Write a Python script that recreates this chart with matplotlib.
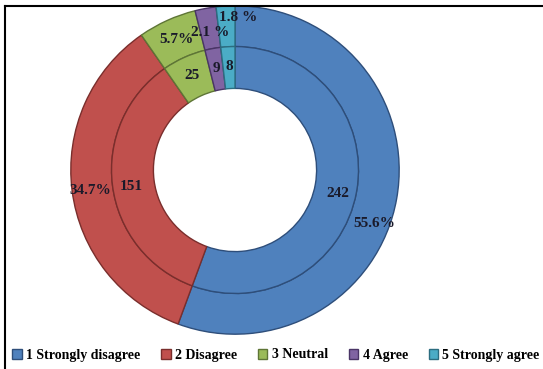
import matplotlib
matplotlib.use("Agg")
import matplotlib.pyplot as plt
from matplotlib.lines import Line2D
from matplotlib.patches import Patch
import numpy as np

categories = ["1 Strongly disagree", "2 Disagree", "3 Neutral", "4 Agree", "5 Strongly agree"]
counts = [242, 151, 25, 9, 8]
percent_labels = ["55.6%", "34.7%", "5.7%", "2.1 %", "1.8 %"]

fills = ["#4F81BD", "#C0504D", "#9BBB59", "#8064A2", "#4BACC6"]
edges = ["#2E4E7A", "#7A2E2C", "#5E7536", "#4A3566", "#2C6D80"]

plt.rcParams["font.family"] = ["Liberation Serif", "DejaVu Serif"]
plt.rcParams["font.weight"] = "bold"

W, H, DPI = 543, 369, 100
fig = plt.figure(figsize=(W / DPI, H / DPI), dpi=DPI)
fig.patch.set_facecolor("white")

# donut centre and outer radius in pixels
cx, cy, R = 235, 170, 165
ax = fig.add_axes([(cx - R) / W, (H - cy - R) / H, 2 * R / W, 2 * R / H])

r_mid, r_in = 0.752, 0.497

outer, _ = ax.pie(counts, radius=1.0, startangle=90, counterclock=False,
                  colors=fills, wedgeprops=dict(width=1.0 - r_mid, linewidth=1.0))
inner, _ = ax.pie(counts, radius=r_mid, startangle=90, counterclock=False,
                  colors=fills, wedgeprops=dict(width=r_mid - r_in, linewidth=1.0))
for w, e in zip(outer, edges):
    w.set_edgecolor(e)
for w, e in zip(inner, edges):
    w.set_edgecolor(e)

ax.set_xlim(-1.005, 1.005)
ax.set_ylim(-1.005, 1.005)
ax.set_aspect("equal")
ax.axis("off")

# small angular nudges (degrees) and radius tweaks for label placement
outer_nudge = [-11, 1, 0, 0, -4.5]
outer_r = [0.91, 0.89, 0.87, 0.85, 0.93]
inner_nudge = [-3, 2, 0, 0, 0]
inner_r = [0.64, 0.64, 0.63, 0.63, 0.63]

total = sum(counts)
start = 90.0
txt_kw = dict(ha="center", va="center", fontsize=11, fontweight="bold", color="#1a1a2a")
for i, c in enumerate(counts):
    span = 360.0 * c / total
    mid = start - span / 2
    start -= span
    a = np.deg2rad(mid + outer_nudge[i])
    ax.text(outer_r[i] * np.cos(a), outer_r[i] * np.sin(a), percent_labels[i], **txt_kw)
    a = np.deg2rad(mid + inner_nudge[i])
    ax.text(inner_r[i] * np.cos(a), inner_r[i] * np.sin(a), str(c), **txt_kw)

handles = [Patch(facecolor=f, edgecolor=e, linewidth=1.0) for f, e in zip(fills, edges)]
fig.legend(handles, categories, loc="center", bbox_to_anchor=(0.508, 1 - 355 / H),
           ncol=5, frameon=False, handlelength=0.7, handleheight=0.7,
           handletextpad=0.3, columnspacing=1.5, prop=dict(weight="bold", size=10))

# frame lines along the top and left
fig.add_artist(Line2D([5 / W, 1.0], [1 - 6 / H, 1 - 6 / H], color="black", lw=1.5,
                      transform=fig.transFigure))
fig.add_artist(Line2D([5 / W, 5 / W], [0.0, 1 - 6 / H], color="black", lw=1.5,
                      transform=fig.transFigure))

fig.savefig("out.png", dpi=DPI, facecolor="white")
